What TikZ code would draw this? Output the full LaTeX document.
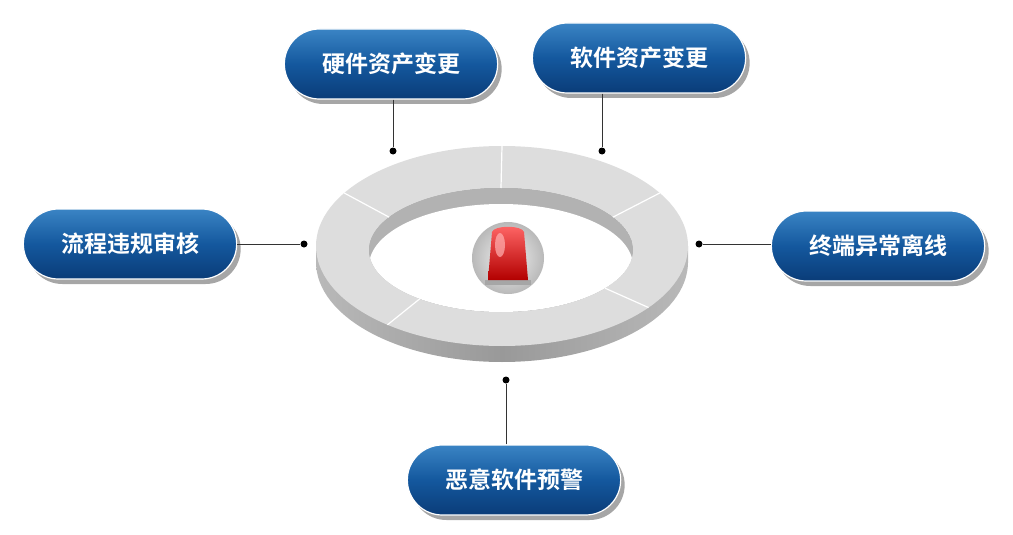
\documentclass[tikz,border=0pt]{standalone}
\usepackage{fontspec}
\setmainfont{Noto Sans CJK SC}
\newfontfamily\cjkb{Noto Sans CJK SC Bold}
\usetikzlibrary{shapes.misc}
\definecolor{ptop}{HTML}{3A84C4}
\definecolor{pmid}{HTML}{14589E}
\definecolor{pbot}{HTML}{0A3C78}
\begin{document}
\begin{tikzpicture}[x=1pt,y=-1pt,
  pill/.style={rounded rectangle,minimum width=220pt,minimum height=70pt,draw=white,line width=1.2pt,
    top color=ptop,bottom color=pbot,middle color=pmid,
    text=white,font=\cjkb\fontsize{23}{25}\selectfont},
  shad/.style={rounded rectangle,minimum width=220pt,minimum height=70pt,fill=gray!70},
  dot/.style={circle,fill=black,inner sep=0pt,minimum size=7pt},
  conn/.style={line width=0.8pt,black!80}]
\useasboundingbox (0,0) rectangle (1013,535);
% ring side
\shade[left color=gray!55,right color=gray!55,middle color=gray!80] (502,262) ellipse[x radius=186,y radius=100];
\shade[left color=gray!55,right color=gray!55,middle color=gray!80] (316,246) rectangle (688,262);
\fill[gray!27,even odd rule] (502,246) ellipse[x radius=186,y radius=100] (501,250) ellipse[x radius=132,y radius=62];
\begin{scope}
\clip (501,250) ellipse[x radius=132,y radius=62];
\fill[gray!60] (501,250) ellipse[x radius=132,y radius=62];
\fill[white] (501,266) ellipse[x radius=132,y radius=62];
\end{scope}
\foreach \a in {90,148,32,232,-38}
  \draw[white,line width=1.2pt] ({501+132*cos(\a)},{250-62*sin(\a)}) -- ({502+186*cos(\a)},{246-100*sin(\a)});
% icon
\shade[inner color=gray!10,outer color=gray!55] (508,258) circle[radius=36];
\fill[gray!70] (485,280) rectangle (531,285);
\shade[top color=red!60,bottom color=red!70!black] (488,280) -- (492,232) .. controls (494,225) and (522,225) .. (524,232) -- (528,280) -- cycle;
\fill[red!30,opacity=0.7] (500,245) ellipse[x radius=5,y radius=12];
% pills
\foreach \n/\x/\y/\t in {h/391/64/硬件资产变更, s/639/58/软件资产变更, l/130/244/流程违规审核, r/878/246/终端异常离线, b/514/480/恶意软件预警}{
  \node[shad] at (\x+4,\y+5) {};
  \node[pill] (\n) at (\x,\y) {\t};
}
\node[dot] (dh) at (393,151) {};
\node[dot] (ds) at (602,151) {};
\node[dot] (dl) at (304,244) {};
\node[dot] (dr) at (699,244) {};
\node[dot] (db) at (506,380) {};
\draw[conn] (h.south -| dh) -- (dh);
\draw[conn] (s.south -| ds) -- (ds);
\draw[conn] (l.east |- dl) -- (dl);
\draw[conn] (r.west |- dr) -- (dr);
\draw[conn] (b.north -| db) -- (db);
\end{tikzpicture}
\end{document}
